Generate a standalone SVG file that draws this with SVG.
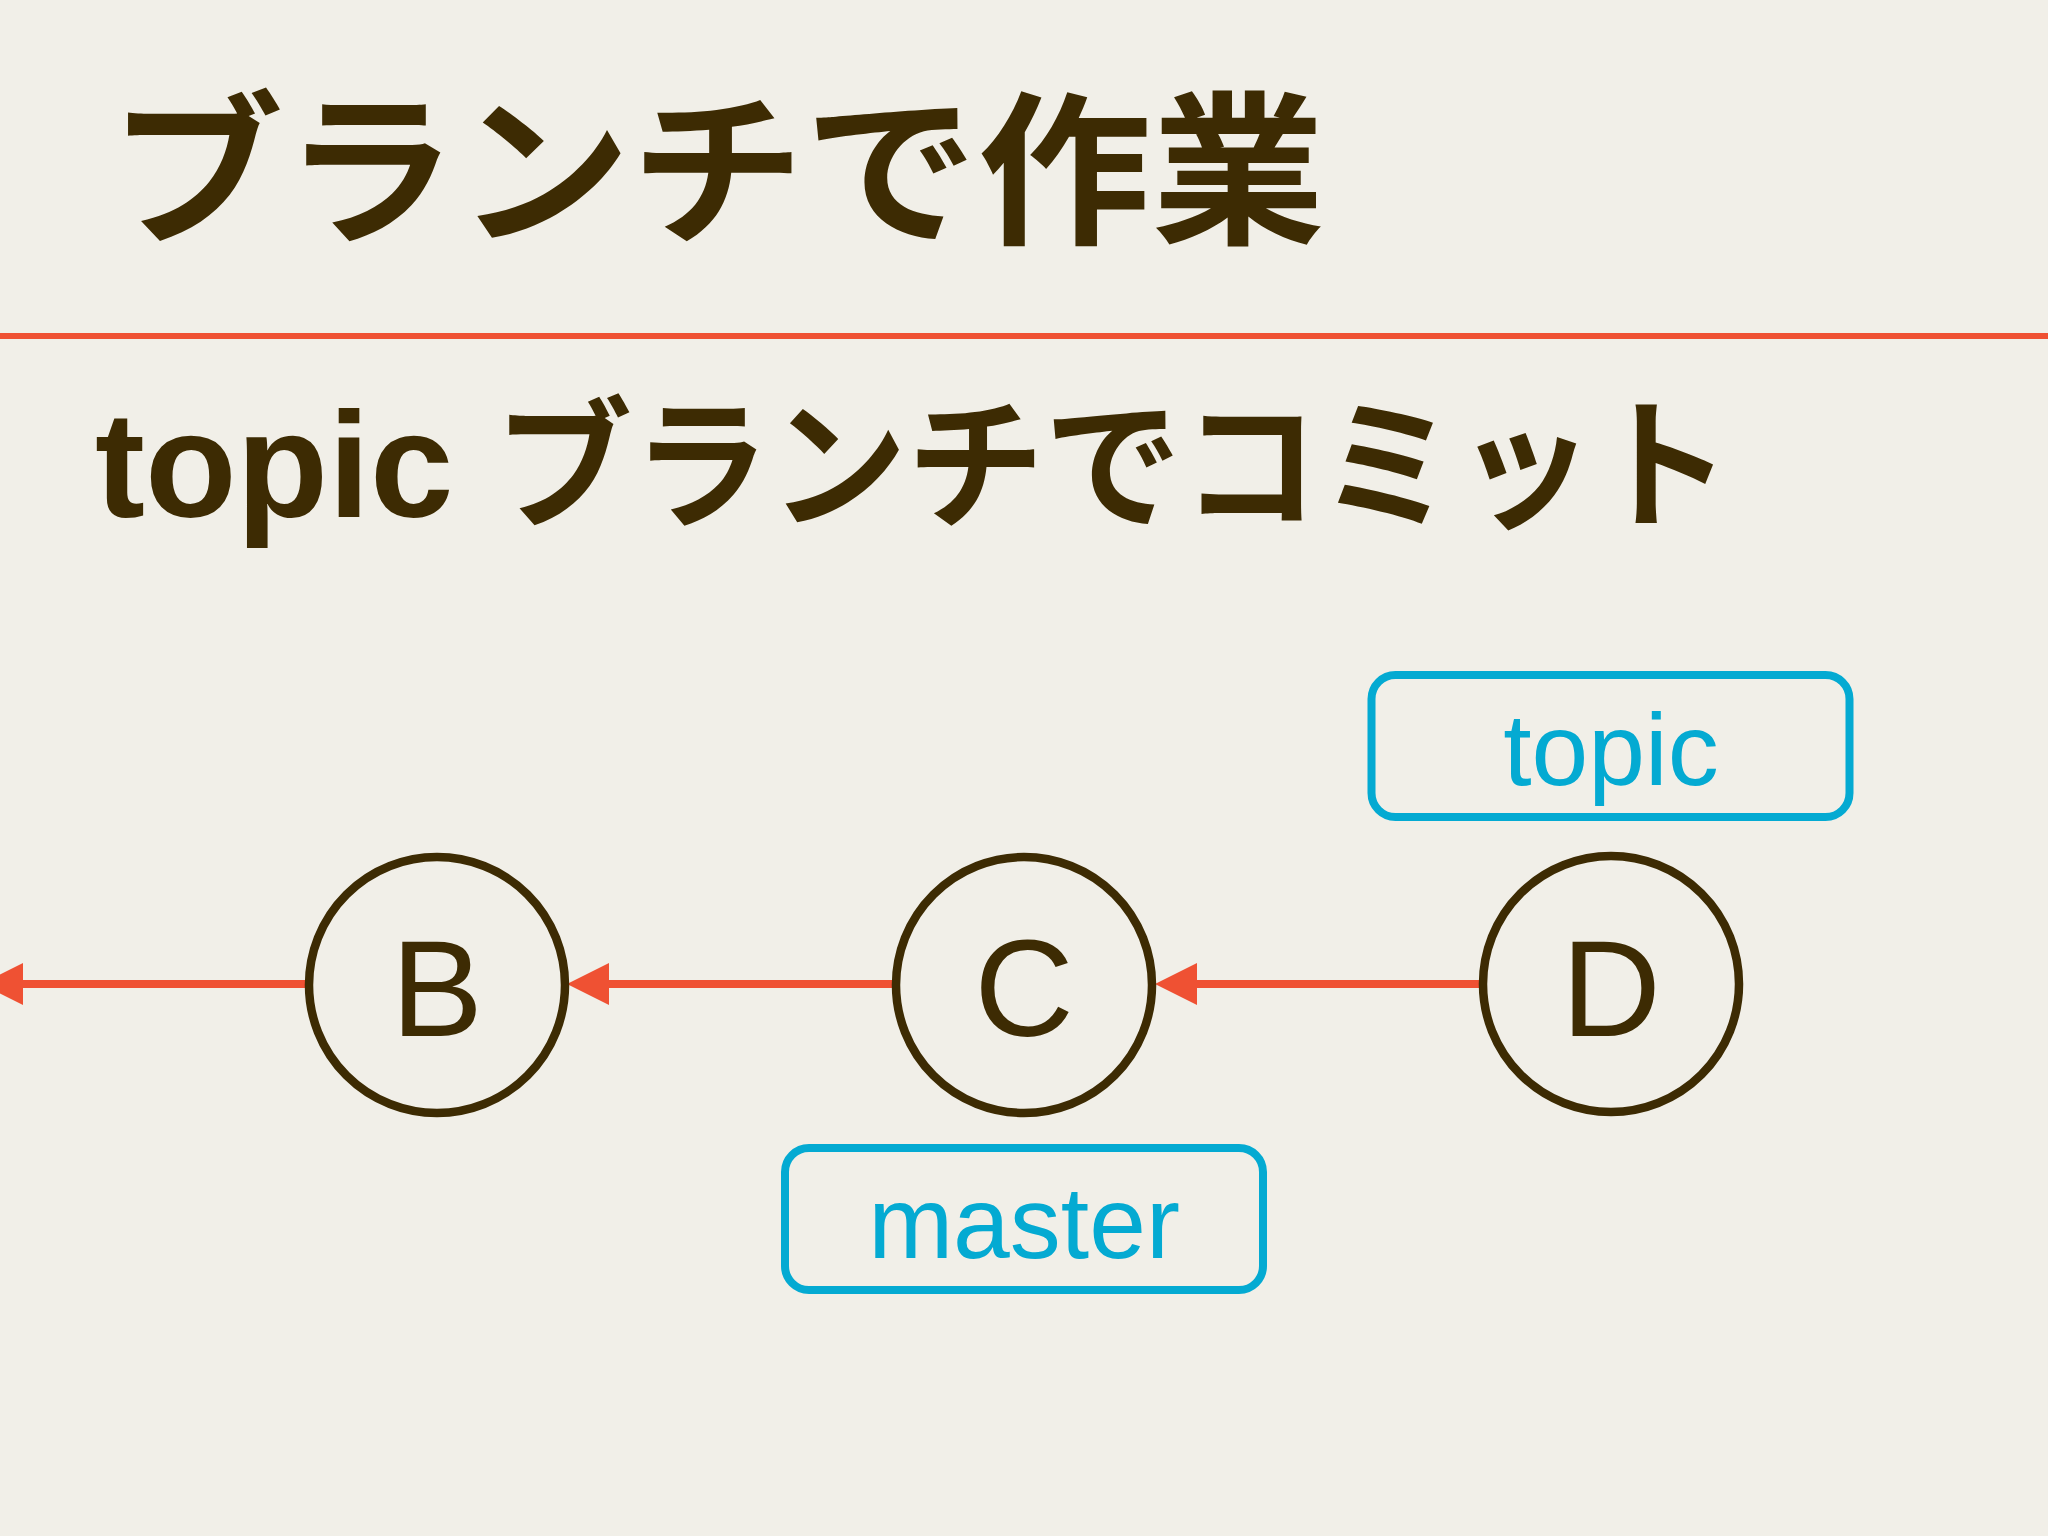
<svg xmlns="http://www.w3.org/2000/svg" width="2048" height="1536" viewBox="0 0 2048 1536">
<style>
.ttl{font-family:"Noto Sans CJK JP","Liberation Sans",sans-serif;font-weight:700;fill:#3D2B03}
.node circle{fill:none;stroke:#3D2B03;stroke-width:8.5}
.node text{font-family:"Liberation Sans",Arial,sans-serif;font-size:138px;fill:#3D2B03;text-anchor:middle}
.lbl rect{fill:none;stroke:#04AAD2;stroke-width:8}
.lbl text{font-family:"Liberation Sans",Arial,sans-serif;font-size:102px;fill:#04AAD2;text-anchor:middle}
.edge{stroke:#EF5133;stroke-width:8;fill:none;marker-end:url(#ah)}
</style>
<defs>
<marker id="ah" markerUnits="userSpaceOnUse" viewBox="0 -25 50 50" markerWidth="50" markerHeight="50" refX="2" refY="0" orient="auto">
<path d="M0,-21 L42,0 L0,21 z" fill="#EF5133"/>
</marker>
</defs>
<rect width="2048" height="1536" fill="#F1EFE8"/>
<text class="ttl" x="110" y="231" font-size="165" textLength="1215" lengthAdjust="spacingAndGlyphs">ブランチで作業</text>
<rect x="0" y="333" width="2048" height="6" fill="#EF5133"/>
<text class="ttl" x="95" y="517"><tspan font-family="Liberation Sans, sans-serif" font-size="150">topic </tspan><tspan font-size="142" textLength="1236" lengthAdjust="spacingAndGlyphs">ブランチでコミット</tspan></text>
<g id="connectors">
<line class="edge" x1="1483" y1="984" x2="1195" y2="984"/>
<line class="edge" x1="896" y1="984" x2="607" y2="984"/>
<line class="edge" x1="308" y1="984" x2="21" y2="984"/>
</g>
<g id="node-B" class="node"><circle cx="437" cy="985" r="128"/><text x="437" y="1036">B</text></g>
<g id="node-C" class="node"><circle cx="1024" cy="985" r="128"/><text x="1024" y="1036">C</text></g>
<g id="node-D" class="node"><circle cx="1611" cy="984" r="128"/><text x="1611" y="1036">D</text></g>
<g id="label-topic" class="lbl"><rect x="1371.5" y="675" width="478" height="142" rx="24"/><text x="1611" y="785">topic</text></g>
<g id="label-master" class="lbl"><rect x="785" y="1148" width="478" height="142" rx="24"/><text x="1024" y="1258">master</text></g>
</svg>
